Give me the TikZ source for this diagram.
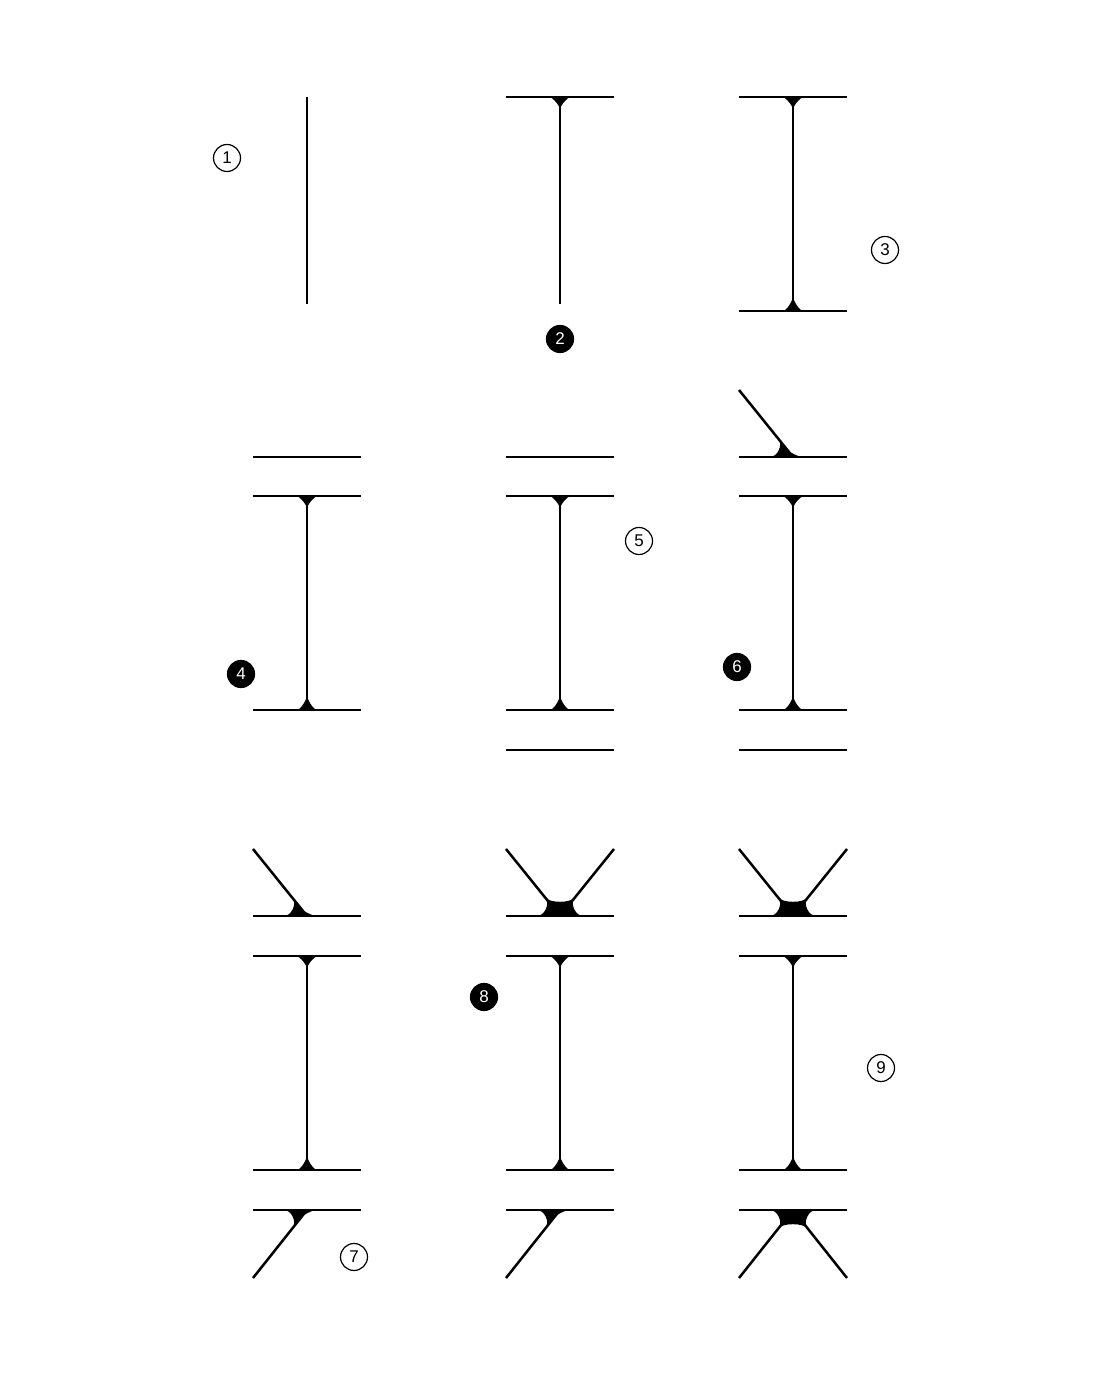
\documentclass[tikz,border=0pt]{standalone}
\usepackage{fontspec}
\usetikzlibrary{calc}
\newfontfamily\numfont{Liberation Sans}
\tikzset{
 beam/.style={line width=1.25pt, line cap=butt},
 numopen/.style={circle, draw=black, line width=0.6pt, minimum size=13.5pt, inner sep=0pt, font=\numfont\fontsize{8.5}{10}\selectfont},
 numfill/.style={numopen, fill=black, text=white},
}
% fillet between two rays from a point: #1 point, #2 #3 ray angles, #4 #5 tangent distances
\newcommand\myfillet[5]{%
  \pgfmathsetmacro\fca{0.68*#4}\pgfmathsetmacro\fcb{0.68*#5}%
  \fill (#1) -- ($(#1)+(#2:#4)$) .. controls ($(#1)+(#2:\fca)$) and ($(#1)+(#3:\fcb)$) .. ($(#1)+(#3:#5)$) -- cycle;}
\newcommand\Tdown[2]{\myfillet{#1,#2}{0}{-90}{11}{13}\myfillet{#1,#2}{180}{-90}{11}{13}}
\newcommand\Tup[2]{\myfillet{#1,#2}{0}{90}{10}{15}\myfillet{#1,#2}{180}{90}{10}{15}}
\newcommand\plainbar[2]{\draw[beam] (#1-54,#2) -- (#1+54,#2);}
\newcommand\Ibeam[3]{%
  \plainbar{#1}{#2}\plainbar{#1}{#3}%
  \draw[beam] (#1,#2) -- (#1,#3);%
  \Tdown{#1}{#2}\Tup{#1}{#3}}
\newcommand\diagUL[2]{\draw[beam] (#1,#2) -- ++(-54,67);%
  \myfillet{#1,#2}{180}{128.87}{23}{23}\myfillet{#1,#2}{0}{128.87}{9}{9}}
\newcommand\diagV[2]{\draw[beam] (#1,#2) -- ++(-54,67);\draw[beam] (#1,#2) -- ++(54,67);%
  \myfillet{#1,#2}{180}{128.87}{23}{23}\myfillet{#1,#2}{128.87}{51.13}{24}{24}\myfillet{#1,#2}{51.13}{0}{23}{23}}
\newcommand\diagDL[2]{\draw[beam] (#1,#2) -- ++(-54,-68);%
  \myfillet{#1,#2}{180}{231.13}{23}{23}\myfillet{#1,#2}{231.13}{360}{9}{9}}
\newcommand\diagLam[2]{\draw[beam] (#1,#2) -- ++(-54,-68);\draw[beam] (#1,#2) -- ++(54,-68);%
  \myfillet{#1,#2}{180}{231.13}{23}{23}\myfillet{#1,#2}{231.13}{308.87}{24}{24}\myfillet{#1,#2}{308.87}{360}{23}{23}}
\begin{document}
\begin{tikzpicture}[x=0.5pt,y=0.5pt]
\fill[white] (0,0) rectangle (1100,1375);
\useasboundingbox (0,0) rectangle (1100,1375);
% Row 1
\draw[beam] (307,1278) -- (307,1071);
\plainbar{560}{1278}
\draw[beam] (560,1278) -- (560,1071);
\Tdown{560}{1278}
\Ibeam{793}{1278}{1064}
% Row 2
\plainbar{307}{918}
\Ibeam{307}{879}{665}
\plainbar{560}{918}
\Ibeam{560}{879}{665}
\plainbar{560}{625}
\plainbar{793}{918}
\diagUL{793}{918}
\Ibeam{793}{879}{665}
\plainbar{793}{625}
% Row 3
\plainbar{307}{459}
\diagUL{307}{459}
\Ibeam{307}{419}{205}
\plainbar{307}{165}
\diagDL{307}{165}
\plainbar{560}{459}
\diagV{560}{459}
\Ibeam{560}{419}{205}
\plainbar{560}{165}
\diagDL{560}{165}
\plainbar{793}{459}
\diagV{793}{459}
\Ibeam{793}{419}{205}
\plainbar{793}{165}
\diagLam{793}{165}
% numbers
\node[numopen] (n1) at (227,1217) {1};
\node[numfill] (n2) at (560,1036) {2};
\node[numopen] (n3) at (885,1125) {3};
\node[numfill] (n4) at (241,701) {4};
\node[numopen] (n5) at (639,834) {5};
\node[numfill] (n6) at (737,708) {6};
\node[numopen] (n7) at (354,118) {7};
\node[numfill] (n8) at (484,378) {8};
\node[numopen] (n9) at (881,307) {9};
\end{tikzpicture}
\end{document}
